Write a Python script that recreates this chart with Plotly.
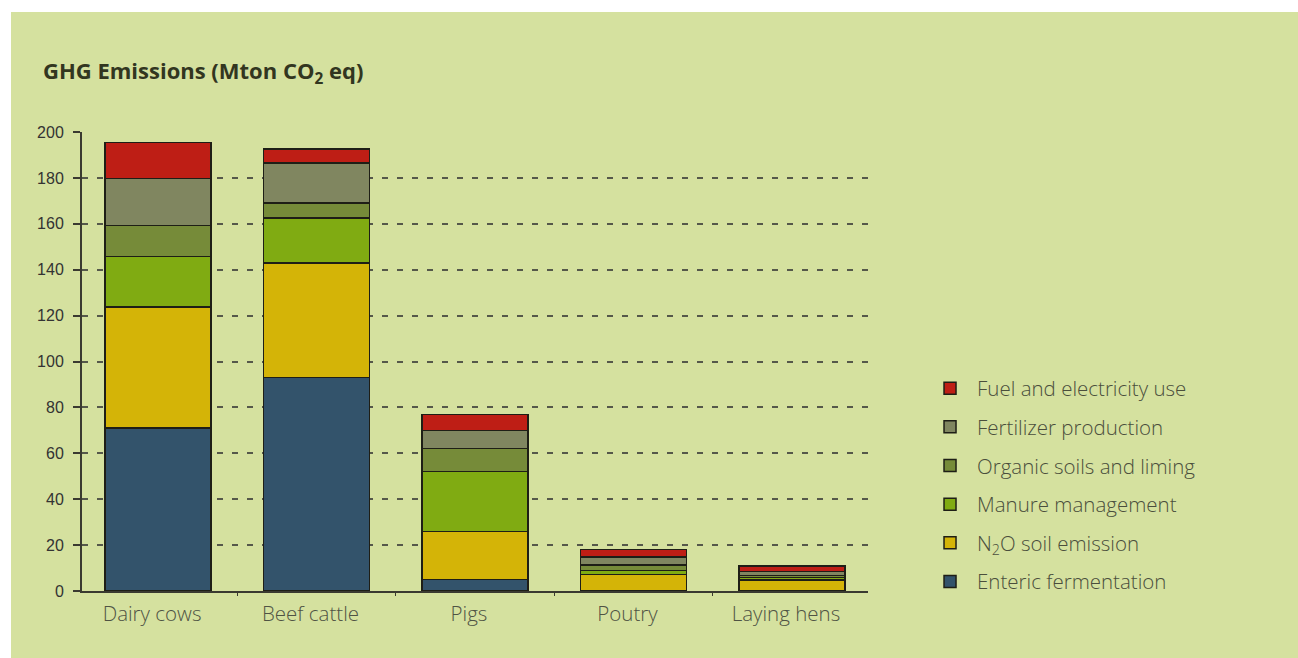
import plotly.graph_objects as go

categories = ["Dairy cows", "Beef cattle", "Pigs", "Poutry", "Laying hens"]

enteric = [71, 93, 5, 0, 0]
n2o = [52.7, 50, 21, 7.3, 4.7]
manure = [22, 19.5, 26, 1.6, 1.1]
organic = [13.5, 6.5, 10, 2.4, 1.0]
fertilizer = [20.5, 17.5, 8, 3.5, 1.8]
fuel = [15.7, 6, 7, 3.3, 2.4]

series_names = ["Enteric fermentation", "N<sub>2</sub>O soil emission", "Manure management",
                "Organic soils and liming", "Fertilizer production", "Fuel and electricity use"]
series_values = [enteric, n2o, manure, organic, fertilizer, fuel]
series_colors = ["#33536b", "#d4b407", "#80ab12", "#768b39", "#808660", "#be1e15"]

y_ticks = [0, 20, 40, 60, 80, 100, 120, 140, 160, 180, 200]

BG = "#d5e19f"

fig = go.Figure()
n = len(series_names)
for i, (name, vals, col) in enumerate(zip(series_names, series_values, series_colors)):
    fig.add_trace(go.Bar(
        x=categories, y=vals, name=name,
        marker=dict(color=col, line=dict(color="#1e1e16", width=1.5)),
        legendgroup=name, legendrank=n - i,
    ))

fig.update_layout(
    width=1298, height=658,
    barmode="stack", bargap=0.33,
    paper_bgcolor=BG, plot_bgcolor=BG,
    margin=dict(l=82, r=430, t=132, b=67),
    showlegend=True,
    legend=dict(
        x=1.07, y=0.485, xanchor="left", yanchor="top",
        traceorder="grouped", tracegroupgap=9, itemwidth=44,
        font=dict(family="Open Sans", size=20.5, color="#4a4e3c", weight=300),
        bgcolor="rgba(0,0,0,0)",
    ),
    annotations=[dict(
        text="<b>GHG Emissions (Mton CO<sub>2</sub> eq)</b>",
        xref="paper", yref="paper", x=-41/786, y=1 + 60/459,
        xanchor="left", yanchor="middle", showarrow=False,
        font=dict(family="Open Sans", size=22, color="#32361f"),
    )],
    shapes=[
        dict(type="rect", xref="paper", yref="paper", x0=-82/786, x1=1 + 430/786,
             y0=1 + 120/459, y1=1 + 140/459, fillcolor="white", line=dict(width=0), layer="below"),
        dict(type="rect", xref="paper", yref="paper", x0=-82/786, x1=-71/786,
             y0=-70/459, y1=1 + 140/459, fillcolor="white", line=dict(width=0), layer="below"),
    ],
)

fig.update_xaxes(
    range=[-0.48, 4.48],
    showline=True, linecolor="#3a3a30", linewidth=2,
    ticks="outside", tickson="boundaries", ticklen=3, tickcolor="#3a3a30",
    showgrid=False,
    tickfont=dict(family="Open Sans", size=20.5, color="#4f5344", weight=300),
    ticklabelshift=-6, ticklabelstandoff=3,
)
fig.update_yaxes(
    range=[0, 200], tickvals=y_ticks,
    showline=True, linecolor="#3a3a30", linewidth=2,
    ticks="outside", ticklen=7, tickcolor="#3a3a30", tickwidth=2,
    showgrid=True, gridcolor="#55584a", gridwidth=2, griddash="6px,9px",
    zeroline=False,
    tickfont=dict(family="Liberation Sans", size=16, color="#333333"),
    ticklabelstandoff=6,
)

fig.write_html("out.html")
